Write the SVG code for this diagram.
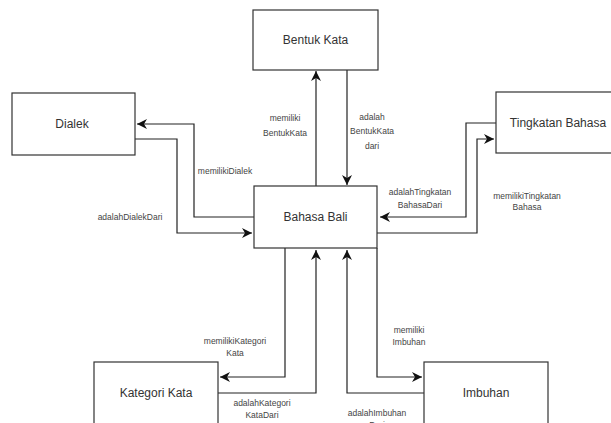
<svg xmlns="http://www.w3.org/2000/svg" width="611" height="423" viewBox="0 0 611 423">
<defs>
<marker id="ah" viewBox="0 0 10 10" refX="10" refY="5" markerWidth="10" markerHeight="10" markerUnits="userSpaceOnUse" orient="auto">
<path d="M0,0 L10,5 L0,10 L3,5 Z" fill="#111"/>
</marker>
<style>
.box{fill:#fff;stroke:#333;stroke-width:1.2}
.nt{font-family:"Liberation Sans",Arial,sans-serif;font-size:12px;fill:#333;text-anchor:middle}
.lb{font-family:"Liberation Sans",Arial,sans-serif;font-size:8.5px;fill:#444;text-anchor:middle}
.cn{fill:none;stroke:#222;stroke-width:1.2;marker-end:url(#ah)}
</style>
</defs>
<rect width="611" height="423" fill="#fff"/>
<g id="connectors">
<path class="cn" d="M316,186 V71"/>
<path class="cn" d="M347,70 V185"/>
<path class="cn" d="M254,217 H194 V124 H137"/>
<path class="cn" d="M135,139 H177 V233 H252"/>
<path class="cn" d="M496,123 H466 V217 H380"/>
<path class="cn" d="M377,233 H477 V139 H494"/>
<path class="cn" d="M285,248 V377 H220"/>
<path class="cn" d="M218,393 H316 V250"/>
<path class="cn" d="M424,393 H347 V250"/>
<path class="cn" d="M377,248 V377 H422"/>
</g>
<g id="labels">
<text class="lb" x="285" y="121">memiliki</text>
<text class="lb" x="285" y="136">BentukKata</text>
<text class="lb" x="372" y="120">adalah</text>
<text class="lb" x="372" y="134">BentukKata</text>
<text class="lb" x="372" y="149">dari</text>
<text class="lb" x="225" y="174">memilikiDialek</text>
<text class="lb" x="130" y="220">adalahDialekDari</text>
<text class="lb" x="420" y="195">adalahTingkatan</text>
<text class="lb" x="420" y="208">BahasaDari</text>
<text class="lb" x="527" y="199">memilikiTingkatan</text>
<text class="lb" x="527" y="210">Bahasa</text>
<text class="lb" x="235" y="344">memilikiKategori</text>
<text class="lb" x="235" y="356">Kata</text>
<text class="lb" x="409" y="333">memiliki</text>
<text class="lb" x="409" y="345">Imbuhan</text>
<text class="lb" x="262" y="406">adalahKategori</text>
<text class="lb" x="262" y="418">KataDari</text>
<text class="lb" x="377" y="416">adalahImbuhan</text>
<text class="lb" x="377" y="428">Dari</text>
</g>
<g id="node-bentuk-kata">
<rect class="box" x="253" y="10" width="125" height="60"/>
<text class="nt" x="315.5" y="44">Bentuk Kata</text>
</g>
<g id="node-dialek">
<rect class="box" x="12" y="93" width="123" height="62"/>
<text class="nt" x="72" y="128">Dialek</text>
</g>
<g id="node-tingkatan-bahasa">
<rect class="box" x="496" y="92" width="125" height="61"/>
<text class="nt" x="558" y="127">Tingkatan Bahasa</text>
</g>
<g id="node-bahasa-bali">
<rect class="box" x="254" y="186" width="123" height="62"/>
<text class="nt" x="315.5" y="221">Bahasa Bali</text>
</g>
<g id="node-kategori-kata">
<rect class="box" x="94" y="362" width="124" height="70"/>
<text class="nt" x="156" y="397">Kategori Kata</text>
</g>
<g id="node-imbuhan">
<rect class="box" x="424" y="362" width="124" height="70"/>
<text class="nt" x="486" y="397">Imbuhan</text>
</g>
</svg>
